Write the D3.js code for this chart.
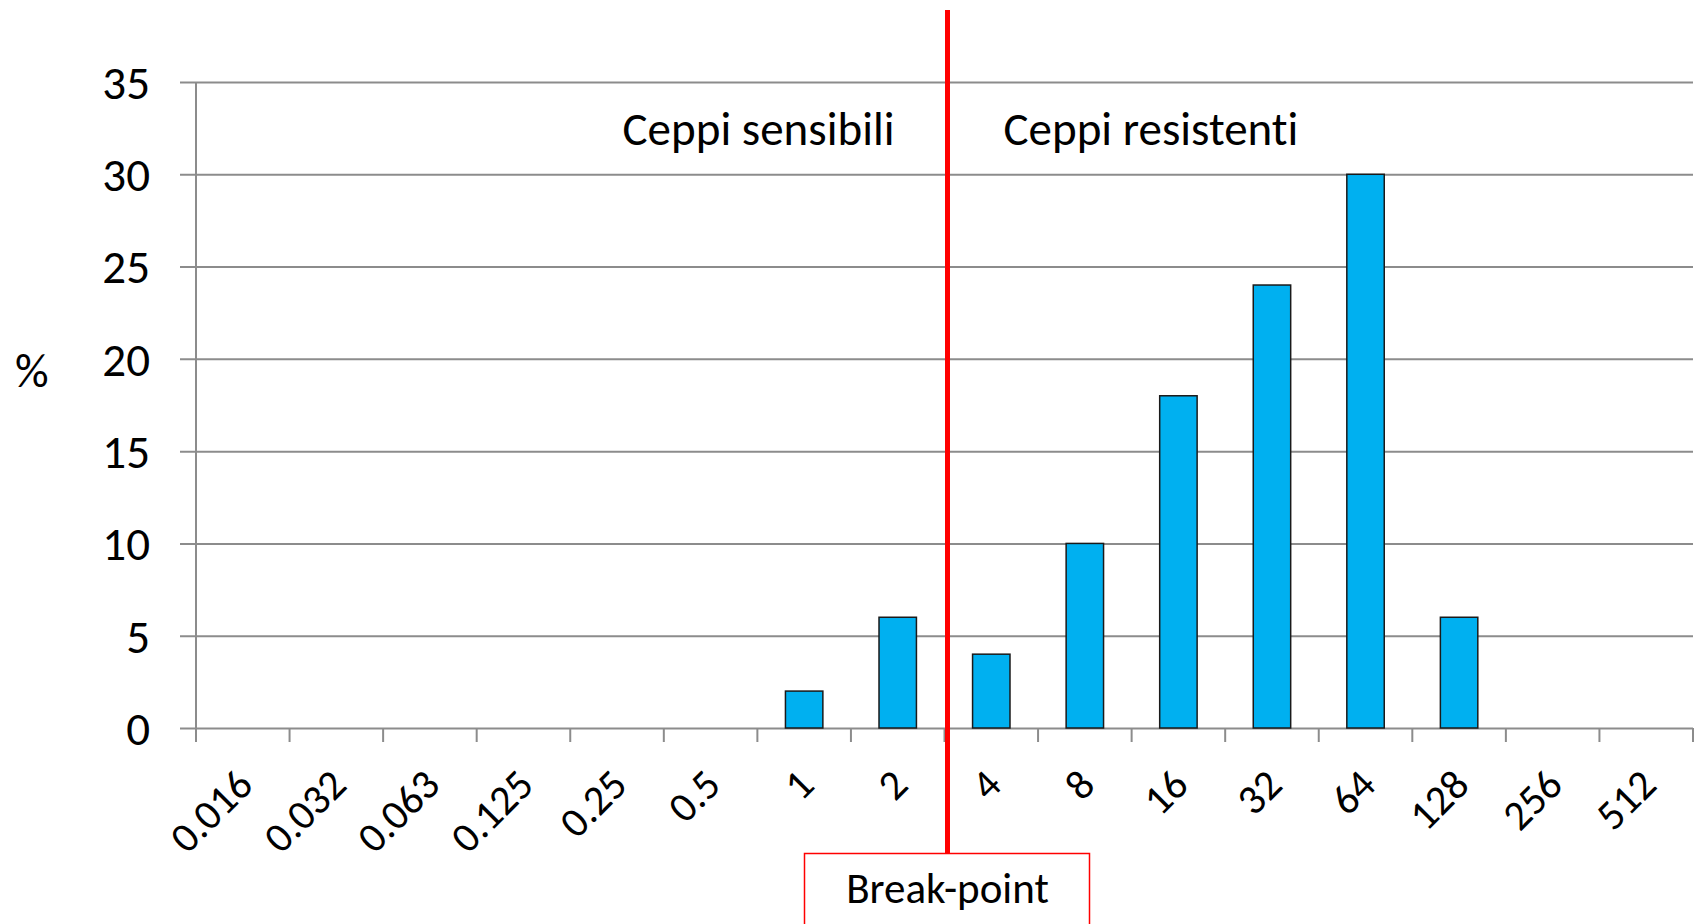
<!DOCTYPE html>
<html lang="it">
<head>
    <meta charset="UTF-8">
    <title>Distribuzione MIC - break-point</title>
    <style>
        html, body {
            margin: 0;
            padding: 0;
            background: #fff;
            overflow: hidden;
        }
        svg text {
            font-family: Carlito, Calibri, Lato, sans-serif;
            font-variant-ligatures: none;
            fill: #000;
        }
    </style>
</head>
<body>
    <svg id="chart" width="1696" height="924"></svg>

    <script src="https://d3js.org/d3.v7.min.js"></script>
    <script>
        // dati
        const categories = ['0.016', '0.032', '0.063', '0.125', '0.25', '0.5', '1', '2',
            '4', '8', '16', '32', '64', '128', '256', '512'];
        const percent = [0, 0, 0, 0, 0, 0, 2, 6, 4, 10, 18, 24, 30, 6, 0, 0];
        const yTicks = [0, 5, 10, 15, 20, 25, 30, 35];
        const breakPointCat = '4';  // primo valore "resistente"
        const labels = {
            left: 'Ceppi sensibili',
            right: 'Ceppi resistenti',
            box: 'Break-point',
            yTitle: '%'
        };

        const svg = d3.select('#chart');

        const plotLeft = 196, plotRight = 1693, plotTop = 82, plotBottom = 728;

        const x = d3.scaleBand()
            .domain(categories)
            .range([plotLeft, plotRight])
            .paddingInner(0.6)
            .paddingOuter(0.3);

        const y = d3.scaleLinear()
            .domain([0, 35])
            .range([plotBottom, plotTop]);

        // griglia orizzontale (include il tick a sinistra)
        svg.append('g')
            .attr('transform', `translate(${plotRight},0)`)
            .call(d3.axisLeft(y).tickValues(yTicks).tickSize(plotRight - plotLeft + 16).tickFormat(''))
            .call(g => g.select('.domain').remove())
            .call(g => g.selectAll('line').attr('stroke', '#8c8c8c').attr('stroke-width', 2));

        // asse y
        svg.append('line')
            .attr('x1', plotLeft).attr('x2', plotLeft)
            .attr('y1', y(35)).attr('y2', plotBottom)
            .attr('stroke', '#8c8c8c').attr('stroke-width', 2);

        svg.append('g')
            .selectAll('text')
            .data(yTicks)
            .join('text')
            .attr('x', 150)
            .attr('y', d => y(d))
            .attr('dy', '0.36em')
            .attr('text-anchor', 'end')
            .style('font-size', '47px')
            .text(d => d);

        svg.append('text')
            .attr('x', 15)
            .attr('y', 387)
            .style('font-size', '47px')
            .text(labels.yTitle);

        // tick dell'asse x sui confini delle categorie
        const step = x.step();
        const bounds = d3.range(categories.length + 1).map(i => plotLeft + i * step);
        svg.append('g')
            .selectAll('line')
            .data(bounds)
            .join('line')
            .attr('x1', d => d).attr('x2', d => d)
            .attr('y1', plotBottom).attr('y2', plotBottom + 14)
            .attr('stroke', '#8c8c8c').attr('stroke-width', 2);

        // etichette x ruotate
        svg.append('g')
            .selectAll('text')
            .data(categories)
            .join('text')
            .attr('transform', d => `translate(${x(d) + x.bandwidth() / 2 + 2},${plotBottom + 49}) rotate(-45)`)
            .attr('text-anchor', 'end')
            .attr('dominant-baseline', 'central')
            .style('font-size', '42px')
            .text(d => d);

        // barre
        svg.append('g')
            .selectAll('rect')
            .data(categories.map((c, i) => ({cat: c, v: percent[i]})).filter(d => d.v > 0))
            .join('rect')
            .attr('x', d => x(d.cat))
            .attr('y', d => y(d.v))
            .attr('width', x.bandwidth())
            .attr('height', d => y(0) - y(d.v))
            .attr('fill', '#00b0f0')
            .attr('stroke', '#1a1a1a')
            .attr('stroke-width', 1.5);

        // linea del break-point
        const bx = x(breakPointCat) - (step - x.bandwidth()) / 2 + 3;
        svg.append('line')
            .attr('x1', bx).attr('x2', bx)
            .attr('y1', 10).attr('y2', 853)
            .attr('stroke', '#ff0000').attr('stroke-width', 5);

        svg.append('rect')
            .attr('x', bx - 143).attr('y', 853.5)
            .attr('width', 285).attr('height', 120)
            .attr('fill', '#fff')
            .attr('stroke', '#ff0000').attr('stroke-width', 1.5);

        svg.append('text')
            .attr('x', bx)
            .attr('y', 903)
            .attr('text-anchor', 'middle')
            .style('font-size', '43px')
            .text(labels.box);

        // titoli delle due zone
        svg.append('text')
            .attr('x', bx - 53)
            .attr('y', 145)
            .attr('text-anchor', 'end')
            .style('font-size', '47px')
            .text(labels.left);

        svg.append('text')
            .attr('x', bx + 56)
            .attr('y', 145)
            .style('font-size', '47px')
            .text(labels.right);
    </script>
</body>
</html>
